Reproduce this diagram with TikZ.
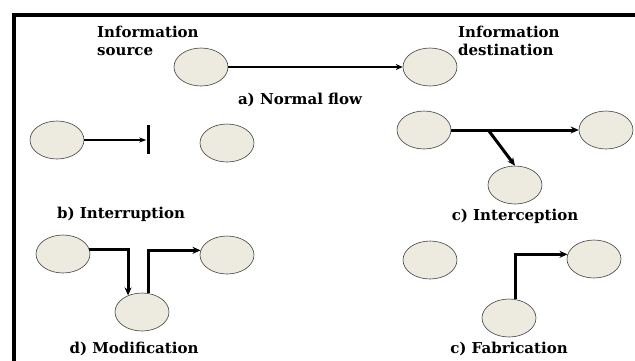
\documentclass[tikz,border=0pt]{standalone}
\usepackage{fontspec}
\setmainfont{DejaVu Serif}
\usetikzlibrary{shapes.geometric,arrows.meta,calc}
\definecolor{ellfill}{RGB}{237,235,224}
\begin{document}
\begin{tikzpicture}[x=1pt,y=-1pt,
  ell/.style={ellipse,draw=black!75,line width=0.6pt,fill=ellfill,minimum width=54pt,minimum height=38pt,inner sep=0pt},
  lbl/.style={font=\bfseries\fontsize{15}{18}\selectfont,inner sep=0pt},
  flowthin/.style={line width=1.5pt,-{Stealth[length=7pt,width=5pt]}},
  flowmid/.style={line width=2.2pt,-{Stealth[length=7pt,width=6pt]}},
  flowthick/.style={line width=3pt,-{Stealth[length=8pt,width=7pt]}},
  barstyle/.style={fill=black,minimum width=3pt,minimum height=29pt,inner sep=0pt}
]
\useasboundingbox (0,0) rectangle (635,360);
% frame
\draw[line width=3.5pt] (635,15) -- (14,15) -- (14,362);

% a) Normal flow
\node[ell] (as) at (201,67) {};
\node[ell] (ad) at (430,67) {};
\draw[flowmid] (as) -- (ad);
\node[lbl,anchor=west,align=left] (asl) at (97,41) {Information\\source};
\node[lbl,anchor=west,align=left] (adl) at (458,41) {Information\\destination};
\node[lbl] (al) at (300,100) {a) Normal flow};

% b) Interruption
\node[ell] (bl) at (57,140) {};
\node[ell] (br) at (227,143) {};
\node[barstyle] (bar) at (148,139.5) {};
\draw[flowthin] (bl) -- (bl -| bar.west);
\node[lbl] (bll) at (121,214) {b) Interruption};

% c) Interception
\node[ell] (cl) at (424,130) {};
\node[ell] (cr) at (606,130) {};
\node[ell] (cb) at (515,185) {};
\draw[flowthick] (cl) -- (cr);
\coordinate (cs) at ($(cl.east)!0.29!(cr.west)$);
\draw[flowthick] (cs) -- (cb.north);
\node[lbl] (cbl) at (515,216) {c) Interception};

% d) Modification
\node[ell] (dl) at (63,254) {};
\node[ell] (dr) at (227,255) {};
\node[ell] (dm) at (142,312) {};
\draw[flowthick] (dl.10) -| (dm.130);
\draw[flowthick] (dm.72) |- (dr.170);
\node[lbl] (dml) at (134,349) {d) Modification};

% e) Fabrication
\node[ell] (el) at (430,260) {};
\node[ell] (er) at (594,259) {};
\node[ell] (eb) at (509,318) {};
\draw[flowthick] (eb.72) |- (er.170);
\node[lbl] (ebl) at (509,349) {c) Fabrication};
\end{tikzpicture}
\end{document}
